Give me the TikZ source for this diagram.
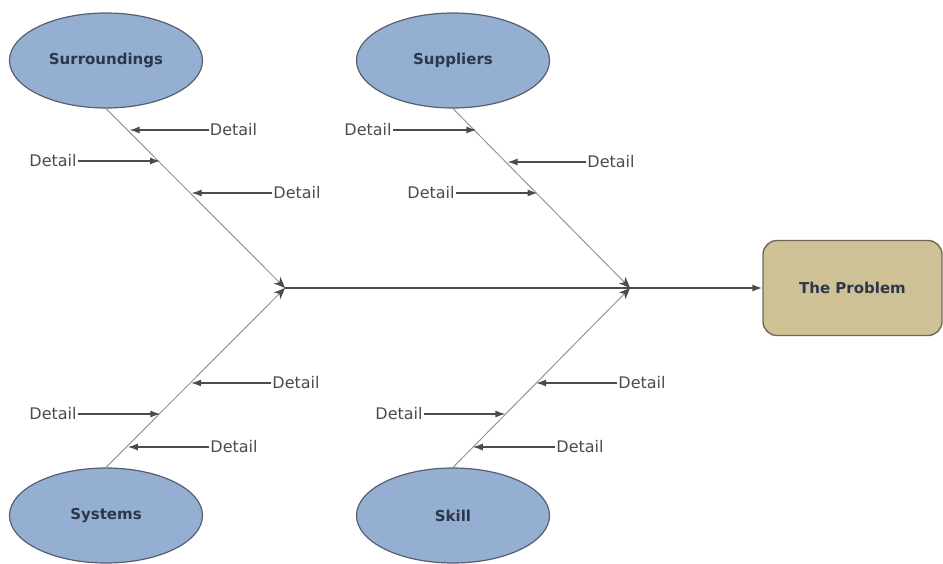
\documentclass[tikz,border=0pt]{standalone}
\usepackage{fontspec}
\setmainfont{DejaVu Sans}
\usetikzlibrary{arrows.meta,shapes.geometric}
\definecolor{bcol}{RGB}{148,175,210}
\definecolor{bline}{RGB}{85,95,110}
\definecolor{tcol}{RGB}{45,55,75}
\definecolor{pcol}{RGB}{206,193,150}
\definecolor{pline}{RGB}{110,105,90}
\definecolor{gcol}{RGB}{150,150,150}
\definecolor{dcol}{RGB}{75,75,75}
\tikzset{every picture/.style={x=1pt,y=-1pt}}
\tikzset{cause/.style={ellipse,draw=bline,fill=bcol,line width=1.2pt,minimum width=193,minimum height=95,inner sep=0pt,text=tcol,font=\fontsize{15}{18}\selectfont\bfseries}}
\tikzset{problem/.style={rectangle,rounded corners=14,draw=pline,fill=pcol,line width=1.4pt,minimum width=179,minimum height=95,text=tcol,font=\fontsize{15}{18}\selectfont\bfseries}}
\tikzset{detail/.style={inner sep=1pt,text=dcol,font=\fontsize{16}{19}\selectfont}}
\tikzset{bone/.style={gcol,line width=1pt,-{Stealth[length=11pt,width=9pt,inset=3pt,color=dcol]}}}
\tikzset{spine/.style={dcol,line width=1.6pt,-{Latex[length=10pt,width=7pt]}}}
\tikzset{edge/.style={dcol,line width=1.3pt,-{Latex[length=10pt,width=7pt]}}}

\begin{document}
\begin{tikzpicture}
\useasboundingbox (0,0) rectangle (943,563);

\node [cause] (sur) at (106,60.5) {Surroundings};
\node [cause] (sup) at (453,60.5) {Suppliers};
\node [cause] (sys) at (106,515.5) {Systems};
\node [cause] (ski) at (453,515.5) {Skill};
\node [problem] (prob) at (852.5,288) {The Problem};

\coordinate (j1) at (285,288);
\coordinate (j2) at (630,288);

% points on the bones
\coordinate (b11) at (129.6,130);
\coordinate (b12) at (160.1,161);
\coordinate (b13) at (191.6,193);
\coordinate (b21) at (476.4,130);
\coordinate (b22) at (507.5,162);
\coordinate (b23) at (537.6,193);
\coordinate (b31) at (191.1,383);
\coordinate (b32) at (160.4,414);
\coordinate (b33) at (127.8,447);
\coordinate (b41) at (536.1,383);
\coordinate (b42) at (505.4,414);
\coordinate (b43) at (472.8,447);

\node [detail] (d11) at (233.5,130) {Detail};
\node [detail] (d12) at (53,161) {Detail};
\node [detail] (d13) at (297,193) {Detail};
\node [detail] (d21) at (368,130) {Detail};
\node [detail] (d22) at (611,162) {Detail};
\node [detail] (d23) at (431,193) {Detail};
\node [detail] (d31) at (296,383) {Detail};
\node [detail] (d32) at (53,414) {Detail};
\node [detail] (d33) at (234,447) {Detail};
\node [detail] (d41) at (642,383) {Detail};
\node [detail] (d42) at (399,414) {Detail};
\node [detail] (d43) at (580,447) {Detail};

\draw [bone] (sur.south) -- (j1);
\draw [bone] (sys.north) -- (j1);
\draw [bone] (sup.south) -- (j2);
\draw [bone] (ski.north) -- (j2);

\draw [spine] (j1) -- (prob.west);

\draw [edge] (d11.west) -- (b11);
\draw [edge] (d12.east) -- (b12);
\draw [edge] (d13.west) -- (b13);

\draw [edge] (d21.east) -- (b21);
\draw [edge] (d22.west) -- (b22);
\draw [edge] (d23.east) -- (b23);

\draw [edge] (d31.west) -- (b31);
\draw [edge] (d32.east) -- (b32);
\draw [edge] (d33.west) -- (b33);

\draw [edge] (d41.west) -- (b41);
\draw [edge] (d42.east) -- (b42);
\draw [edge] (d43.west) -- (b43);
\end{tikzpicture}
\end{document}
